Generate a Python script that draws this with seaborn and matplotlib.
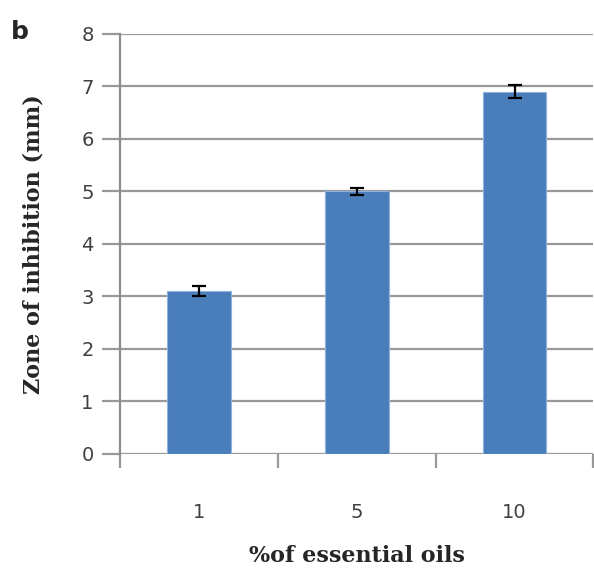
import pandas as pd
import numpy as np
import matplotlib
matplotlib.use("Agg")
import matplotlib.pyplot as plt
import seaborn as sns

# Data
concentrations = ["1", "5", "10"]
zone_mm = [3.1, 5.0, 6.9]
zone_err = [0.10, 0.07, 0.12]

df = pd.DataFrame({"conc": concentrations, "zone": zone_mm})

sns.set_style("white")

fig = plt.figure(figsize=(5.94, 5.73), dpi=100)
ax = fig.add_axes([0.202, 0.2077, 0.797, 0.733])

sns.barplot(data=df, x="conc", y="zone", order=concentrations, color="#4a7ebb",
            width=0.405, errorbar=None, saturation=1, edgecolor="#8fb2dc",
            linewidth=0.8, ax=ax, zorder=3)

# error bars
ax.errorbar(np.arange(len(concentrations)), zone_mm, yerr=zone_err, fmt="none",
            ecolor="black", elinewidth=1.6, capsize=5, capthick=1.6, zorder=4)

ax.set_ylim(0, 8)
ax.set_xlim(-0.5, 2.5)
ax.set_yticks(range(0, 9))
ax.set_xticks([-0.5, 0.5, 1.5, 2.5], minor=False)
ax.set_xticklabels(["", "", "", ""])
ax.set_xticks(range(len(concentrations)), minor=True)
ax.set_xticklabels(concentrations, minor=True)

ax.yaxis.grid(True, color="#999999", linewidth=1.6, zorder=0)
ax.set_axisbelow(True)
for s in ["top", "right", "bottom"]:
    ax.spines[s].set_visible(False)
ax.spines["left"].set_color("#8c8c8c")
ax.spines["left"].set_linewidth(1.6)

ax.tick_params(axis="y", which="major", length=13, width=1.6, color="#999999",
               labelsize=14, labelcolor="#404040", pad=6, left=True)
ax.tick_params(axis="x", which="major", length=10, width=1.6, color="#999999",
               bottom=True, direction="out")
ax.tick_params(axis="x", which="minor", length=0, labelsize=14,
               labelcolor="#404040", pad=35)

ax.set_xlabel("%of essential oils", fontfamily="DejaVu Serif",
              fontweight="bold", fontsize=16, labelpad=17)
ax.set_ylabel("Zone of inhibition (mm)", fontfamily="DejaVu Serif",
              fontweight="bold", fontsize=16, labelpad=26)

fig.text(0.018, 0.945, "b", fontsize=18, fontweight="bold", ha="left", va="center")

plt.savefig("out.png", dpi=100)
